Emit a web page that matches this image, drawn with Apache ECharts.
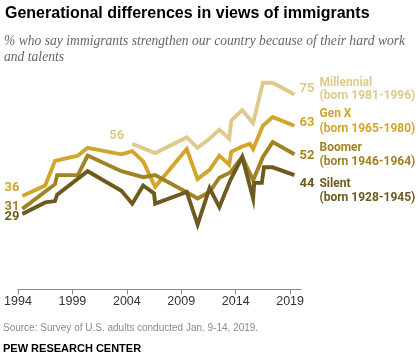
<!DOCTYPE html>
<html>
<head>
<meta charset="utf-8">
<script src="https://cdn.jsdelivr.net/npm/echarts@6/dist/echarts.min.js"></script>
<style>
html,body{margin:0;padding:0;background:#fff;}
#chart{width:420px;height:362px;}
</style>
</head>
<body>
<div id="chart"></div>
<script>
// ---- Data ----
const seriesNames = ['Millennial', 'Gen X', 'Boomer', 'Silent'];
const bornLabels = ['(born 1981-1996)', '(born 1965-1980)', '(born 1946-1964)', '(born 1928-1945)'];
const tickYears = [1994, 1999, 2004, 2009, 2014, 2019];

const millennialYears  = [2004.5, 2006.6, 2009.5, 2010.5, 2011.6, 2012.5, 2013.4, 2013.6, 2014.6, 2015.6, 2016.5, 2017.4, 2019.4];
const millennialValues = [56, 52.5, 58.5, 54.5, 58, 61.5, 58, 65, 69, 64, 79.5, 79.5, 75];

const genXYears  = [1994.4, 1996.5, 1997.4, 1999.5, 2000.4, 2003.5, 2004.5, 2005.5, 2006.6, 2009.5, 2010.5, 2011.6, 2012.5, 2013.4, 2013.6, 2014.6, 2015.3, 2015.6, 2016.5, 2017.4, 2019.4];
const genXValues = [36, 40, 49.5, 51.5, 54.5, 52, 53.2, 49.3, 39.5, 54, 42.5, 46, 51.5, 48, 53, 55, 56, 54, 63, 66.3, 63];

const boomerYears  = [1994.4, 1997.4, 1997.6, 1999.5, 2000.4, 2003.5, 2005.5, 2006.6, 2009.5, 2010.5, 2011.6, 2012.5, 2013.5, 2014.6, 2015.6, 2016.5, 2017.4, 2019.4];
const boomerValues = [31, 40.5, 44, 44, 51.5, 45.5, 43.2, 44, 37.4, 35, 37.5, 43, 45, 51, 42, 51, 56.7, 52];

const silentYears  = [1994.4, 1996.5, 1997.4, 1997.6, 2000.4, 2003.5, 2004.5, 2005.5, 2006.5, 2006.6, 2009.5, 2010.5, 2011.6, 2012.5, 2013.5, 2014.6, 2015.6, 2015.7, 2016.4, 2016.6, 2017.4, 2019.4];
const silentValues = [29, 33.5, 34, 36.5, 45.5, 38, 33, 40, 37, 33, 37.5, 25, 39, 31.7, 42, 51, 35, 41, 41, 47, 47, 44];

const endValueLabels = ['75', '63', '52', '44'];
const startValueLabels = ['56', '36', '31', '29'];

// ---- Styles ----
const colors = ['#dfca8e', '#d2a52b', '#a08325', '#6c5a1f'];
const labelFont = 'Roboto, "Liberation Sans", sans-serif';

function pairs(xs, ys) { return xs.map((x, i) => [x, ys[i]]); }
const allData = [
  pairs(millennialYears, millennialValues),
  pairs(genXYears, genXValues),
  pairs(boomerYears, boomerValues),
  pairs(silentYears, silentValues)
];

const chart = echarts.init(document.getElementById('chart'), null, {renderer: 'canvas'});

const option = {
  animation: false,
  backgroundColor: '#fff',
  grid: {left: 18, width: 283, top: 29.5, height: 260, containLabel: false},
  xAxis: {
    type: 'value', min: 1994, max: 2020,
    splitLine: {show: false},
    axisLine: {show: true, lineStyle: {color: '#8a8a8a', width: 1}},
    axisTick: {show: true, length: 5, customValues: tickYears, lineStyle: {color: '#8a8a8a'}},
    axisLabel: {customValues: tickYears, color: '#333', fontSize: 12.5, fontFamily: '"Liberation Sans", Arial, sans-serif', margin: 6,
      formatter: v => String(v)}
  },
  yAxis: {type: 'value', min: 0, max: 100, show: false, splitLine: {show: false}},
  series: allData.map((d, i) => ({
    name: seriesNames[i], type: 'line', data: d, showSymbol: false, symbol: 'none',
    z: 2 + i,
    lineStyle: {color: colors[i], width: 3.9, join: 'miter', cap: 'butt'},
    emphasis: {disabled: true}
  })),
  graphic: []
};
chart.setOption(option);

// ---- Text layout ----
const texts = [];
texts.push({type: 'text', left: 5, top: 6, style: {text: 'Generational differences in views of immigrants', fill: '#000',
  font: 'bold 16px "Liberation Sans Narrow", "Liberation Sans", sans-serif'}});
texts.push({type: 'text', left: 4, top: 33, style: {text: '% who say immigrants strengthen our country because of their hard work\nand talents',
  fill: '#666', font: 'italic 13.6px "Liberation Serif", serif', lineHeight: 16}});
texts.push({type: 'text', left: 3, top: 323, style: {text: 'Source: Survey of U.S. adults conducted Jan. 9-14, 2019.', fill: '#8a8a8a',
  font: '10px "Liberation Sans", Arial, sans-serif'}});
texts.push({type: 'text', left: 3, top: 343, style: {text: 'PEW RESEARCH CENTER', fill: '#000',
  font: 'bold 11px "Liberation Sans Narrow", "Liberation Sans", sans-serif'}});

// start labels: offsets relative to first point of each series
const startOffsets = [[-8, -8], [-3, -8], [-3, -2], [-3, 3]];
allData.forEach((d, i) => {
  const p = chart.convertToPixel({gridIndex: 0}, d[0]);
  texts.push({type: 'text', x: p[0] + startOffsets[i][0], y: p[1] + startOffsets[i][1],
    style: {text: startValueLabels[i], fill: colors[i], font: 'bold 13px ' + labelFont, align: 'right', verticalAlign: 'middle'}});
});

// end labels
const endOffsetY = [-6, -3, 1, 9];
const nameShift = [[-6, 7.5], [-8.5, 6], [-7, 7], [0, 14]];
allData.forEach((d, i) => {
  const p = chart.convertToPixel({gridIndex: 0}, d[d.length - 1]);
  const ny = p[1] + endOffsetY[i];
  texts.push({type: 'text', x: p[0] + 5, y: ny, style: {text: endValueLabels[i], fill: colors[i], font: 'bold 13px ' + labelFont, verticalAlign: 'middle'}});
  texts.push({type: 'text', x: p[0] + 25, y: ny + nameShift[i][0], style: {text: seriesNames[i], fill: colors[i], font: 'bold 12px ' + labelFont, verticalAlign: 'middle'}});
  texts.push({type: 'text', x: p[0] + 25, y: ny + nameShift[i][1], style: {text: bornLabels[i], fill: colors[i], font: 'bold 12px ' + labelFont, verticalAlign: 'middle'}});
});

chart.setOption({graphic: texts});
</script>
</body>
</html>
